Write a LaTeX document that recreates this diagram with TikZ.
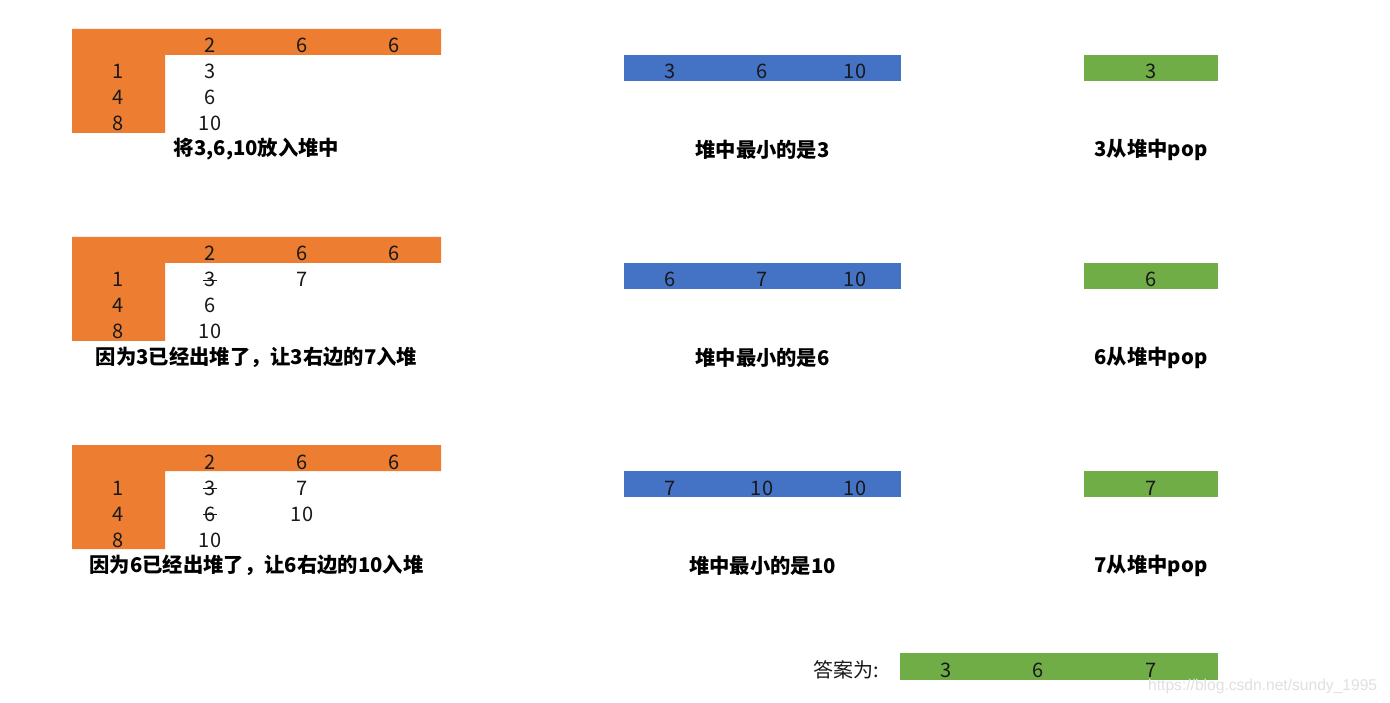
\documentclass[tikz,border=0pt]{standalone}
\usepackage{fontspec}
\setmainfont{Noto Sans CJK SC}
\newfontfamily\wmfont{Liberation Sans}
\definecolor{xlorange}{HTML}{ED7D31}
\definecolor{xlblue}{HTML}{4472C4}
\definecolor{xlgreen}{HTML}{70AD47}
\tikzset{
  num/.style={inner sep=0pt, anchor=base, font=\fontsize{20}{20}\selectfont, text=black!90},
  captxt/.style={inner sep=0pt, font=\bfseries\fontsize{20.3}{20.3}\selectfont, text=black},
  strikeline/.style={draw=black!90, line width=0.8pt},
}
\begin{document}
\begin{tikzpicture}[x=1pt,y=-1pt]
\useasboundingbox[fill=white] (0,0) rectangle (1390,703);
% ---------- three blocks ----------
\foreach \b/\dy in {1/0,2/208,3/416}{
  \begin{scope}[yshift=-\dy pt]
    \fill[xlorange] (72,29) -- (441,29) -- (441,55) -- (165,55) -- (165,133) -- (72,133) -- cycle;
    \fill[xlblue] (624,55) rectangle (901,81);
    \fill[xlgreen] (1084,55) rectangle (1218,81);
    \node[num] (h1\b) at (210,53) {2};
    \node[num] (h2\b) at (302,53) {6};
    \node[num] (h3\b) at (394,53) {6};
    \node[num] (r1\b) at (118,79) {1};
    \node[num] (r2\b) at (118,105) {4};
    \node[num] (r3\b) at (118,131) {8};
    \node[num] (c1\b) at (210,79) {3};
    \node[num] (c2\b) at (210,105) {6};
    \node[num] (c3\b) at (210,131) {10};
  \end{scope}
}
% block 1
\node[captxt] (t1) at (256.5,149.5) {将3,6,10放入堆中};
\node[num] (b11) at (670,79) {3};
\node[num] (b12) at (762,79) {6};
\node[num] (b13) at (855,79) {10};
\node[captxt] (u1) at (762.5,149.5) {堆中最小的是3};
\node[num] (g1) at (1151,79) {3};
\node[captxt] (v1) at (1151,149.5) {3从堆中pop};
% block 2
\draw[strikeline] ([xshift=-1.5pt,yshift=-0.5pt]c12.west) -- ([xshift=1.5pt,yshift=-0.5pt]c12.east);
\node[num] (d12) at (302,287) {7};
\node[captxt] (t2) at (256.5,357.5) {因为3已经出堆了，让3右边的7入堆};
\node[num] (b21) at (670,287) {6};
\node[num] (b22) at (762,287) {7};
\node[num] (b23) at (855,287) {10};
\node[captxt] (u2) at (762.5,357.5) {堆中最小的是6};
\node[num] (g2) at (1151,287) {6};
\node[captxt] (v2) at (1151,357.5) {6从堆中pop};
% block 3
\draw[strikeline] ([xshift=-1.5pt,yshift=-0.5pt]c13.west) -- ([xshift=1.5pt,yshift=-0.5pt]c13.east);
\draw[strikeline] ([xshift=-1.5pt,yshift=-0.5pt]c23.west) -- ([xshift=1.5pt,yshift=-0.5pt]c23.east);
\node[num] (d13) at (302,495) {7};
\node[num] (d23) at (302,521) {10};
\node[captxt] (t3) at (256.5,565.5) {因为6已经出堆了，让6右边的10入堆};
\node[num] (b31) at (670,495) {7};
\node[num] (b32) at (762,495) {10};
\node[num] (b33) at (855,495) {10};
\node[captxt] (u3) at (762.5,565.5) {堆中最小的是10};
\node[num] (g3) at (1151,495) {7};
\node[captxt] (v3) at (1151,565.5) {7从堆中pop};
% answer
\fill[xlgreen] (900,653) rectangle (1218,680);
\node[num, anchor=base west] (ans) at (813,677) {答案为:};
\node[num] (a1) at (946,677) {3};
\node[num] (a2) at (1038,677) {6};
\node[num] (a3) at (1151,677) {7};
% watermark
\node[inner sep=0pt, anchor=west, font=\wmfont\fontsize{15.6}{15.6}\selectfont, text=black!12] (wm) at (1148,686) {https://blog.csdn.net/sundy\_1995};
\end{tikzpicture}
\end{document}
